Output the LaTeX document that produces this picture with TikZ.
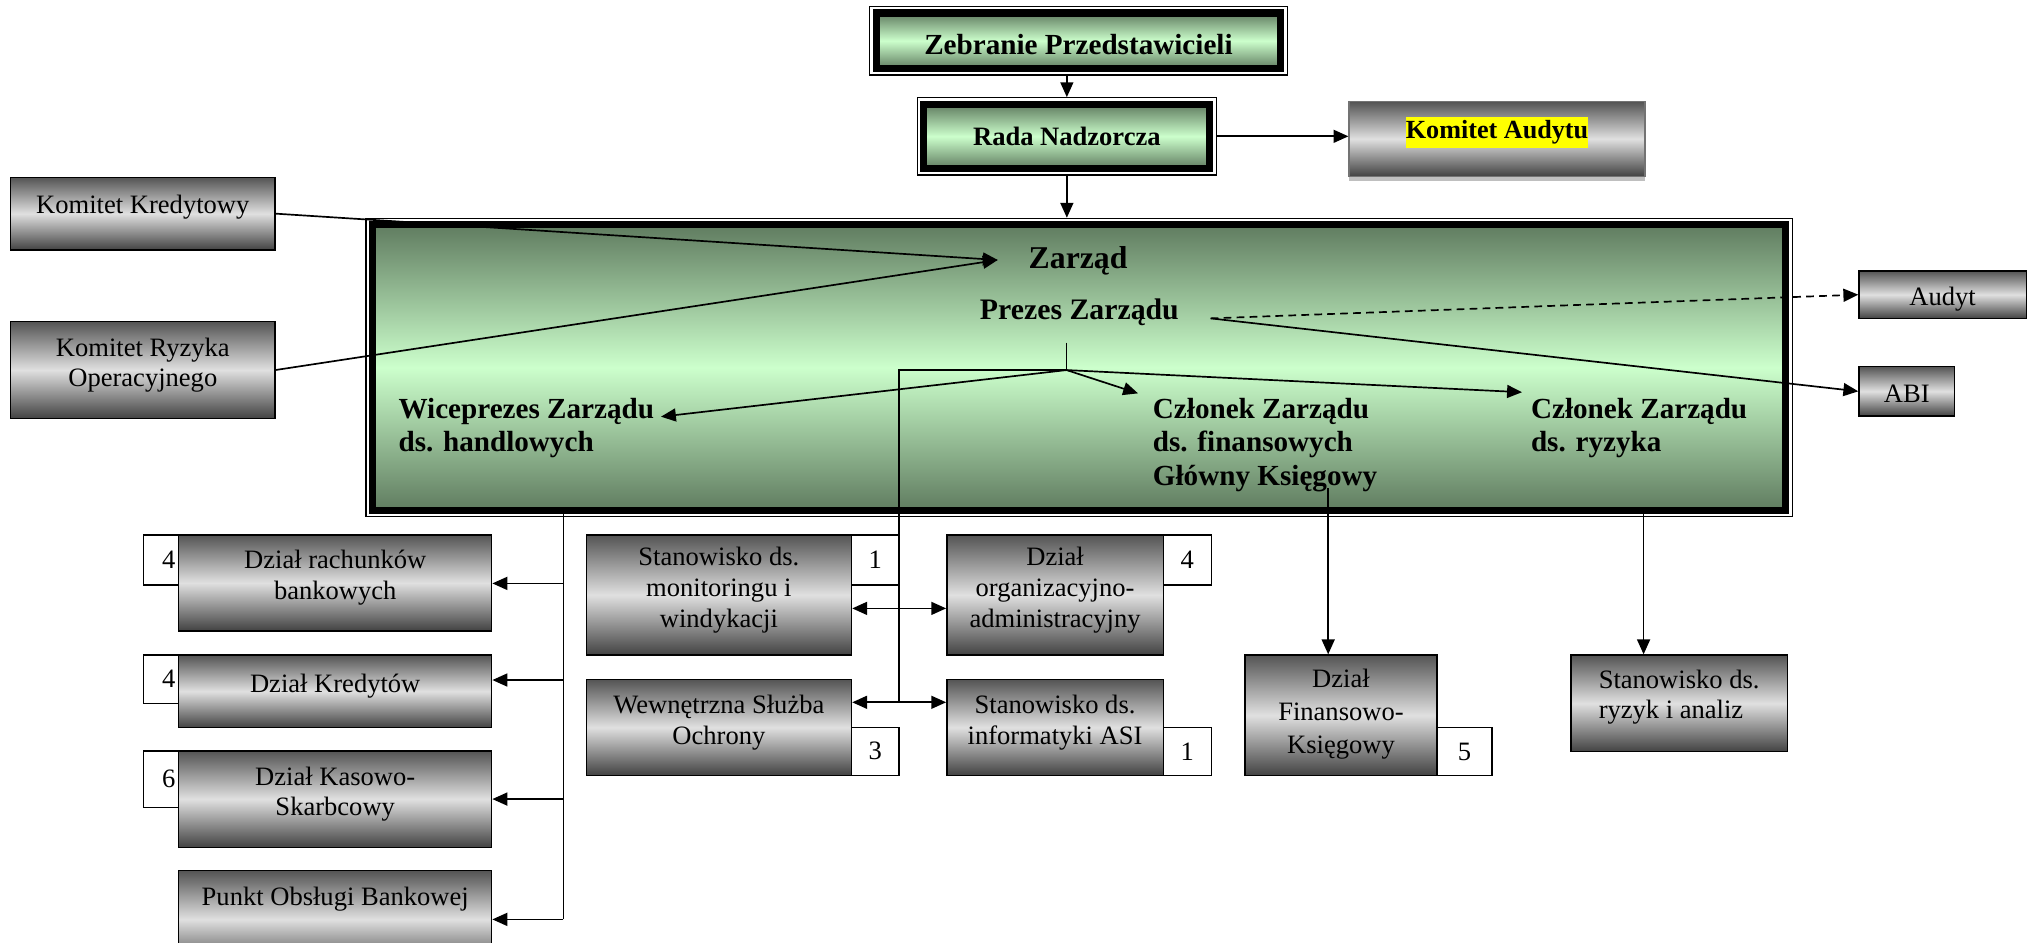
\documentclass[tikz,border=0pt]{standalone}
\usepackage{fontspec}
\setmainfont{Liberation Serif}
\usetikzlibrary{arrows.meta}
\definecolor{gdark}{RGB}{96,124,96}
\definecolor{glight}{RGB}{204,255,204}
\definecolor{sdark}{RGB}{84,84,84}
\definecolor{sbot}{RGB}{66,66,66}
\definecolor{slight}{RGB}{224,224,224}
\definecolor{hl}{RGB}{255,255,0}
\begin{document}
\begin{tikzpicture}[x=1pt,y=-1pt,
  conn/.style={line width=1.3pt},
  arr/.style={conn,-{Triangle[length=11.5pt,width=10pt]}},
  dbl/.style={conn,{Triangle[length=11.5pt,width=10pt]}-{Triangle[length=11.5pt,width=10pt]}},
  dsh/.style={arr,dash pattern=on 6pt off 4pt},
  gbox/.style={draw=black,line width=1.1pt,top color=sdark,bottom color=sbot,middle color=slight,inner sep=0pt,align=center,font=\fontsize{20.5}{23.7}\selectfont,text depth=12pt},
  numbox/.style={draw=black,line width=1.1pt,fill=white,inner sep=0pt,font=\fontsize{20.5}{23.7}\selectfont},
  lnum/.style={numbox,text width=22.3pt,inner xsep=2.5pt,align=right},
  outerframe/.style={draw=black,line width=1pt,inner sep=0pt},
  greenbox/.style={draw=black,line width=5.5pt,top color=gdark,bottom color=gdark,middle color=glight,inner sep=0pt},
  btext/.style={font=\bfseries\fontsize{22.5}{26}\selectfont,inner sep=0pt,align=left},
]
\useasboundingbox (0,0) rectangle (1568,728);
\clip (0,0) rectangle (1568,728);

% top boxes
\node[outerframe,minimum width=322.4pt,minimum height=53pt] (zebo) at (832.6,31.5) {};
\node[greenbox,minimum width=312.4pt,minimum height=43pt,font=\bfseries\fontsize{22.5}{26}\selectfont,text height=21pt] (zeb) at (832.6,31.5) {Zebranie Przedstawicieli};
\node[outerframe,minimum width=230.7pt,minimum height=59.5pt] (radao) at (823.65,105.25) {};
\node[greenbox,minimum width=220.7pt,minimum height=49.5pt,font=\bfseries\fontsize{20.5}{24}\selectfont] (rada) at (823.65,105.25) {Rada Nadzorcza};

\fill[black!25] (1041.5,136) rectangle (1270,140);
\node[draw=black!55,line width=1pt,top color=sdark,bottom color=sbot,middle color=slight,inner sep=0pt,minimum width=228.5pt,minimum height=57.5pt,font=\bfseries\fontsize{20.2}{24}\selectfont,text depth=17pt] (kaud) at (1155.75,107.25) {{\setlength{\fboxsep}{0pt}\colorbox{hl}{\strut Komitet Audytu}}};

% Zarzad
\node[outerframe,minimum width=1101.1pt,minimum height=230.2pt] (zaro) at (833.15,283.7) {};
\node[greenbox,minimum width=1091.1pt,minimum height=220.2pt] (zar) at (833.15,283.7) {};
\node[font=\bfseries\fontsize{24.5}{28}\selectfont,inner sep=0pt,anchor=base] (zt) at (832.3,207) {Zarząd};
\node[font=\bfseries\fontsize{23}{26}\selectfont,inner sep=0pt,anchor=base] (prezes) at (833.3,246.5) {Prezes Zarządu};
\node[btext,anchor=north west] (wice) at (307.5,307) {Wiceprezes Zarządu\\ds. handlowych};
\node[btext,anchor=north west] (czf) at (889.9,307) {Członek Zarządu\\ds. finansowych\\Główny Księgowy};
\node[btext,anchor=north west] (czr) at (1181.8,307) {Członek Zarządu\\ds. ryzyka};

% side committees
\node[gbox,minimum width=204.1pt,minimum height=56.1pt,text depth=15pt] (kk) at (110.25,164.95) {Komitet Kredytowy};
\node[gbox,minimum width=204.1pt,minimum height=74.7pt] (kr) at (110.25,285.65) {Komitet Ryzyka\\Operacyjnego};
\node[gbox,minimum width=129.2pt,minimum height=36.6pt,text depth=0pt,text height=17pt] (audyt) at (1499.8,227.5) {Audyt};
\node[gbox,minimum width=73.7pt,minimum height=38.2pt,text depth=0pt,text height=17pt] (abi) at (1472.05,302.1) {ABI};

% left column
\node[gbox,minimum width=241.6pt,minimum height=74pt] (rach) at (258.8,450) {Dział rachunków\\bankowych};
\node[lnum,minimum height=38.6pt] (n1) at (124.35,432.3) {4};
\node[gbox,minimum width=241.6pt,minimum height=56.1pt] (kred) at (258.8,533.75) {Dział Kredytów};
\node[lnum,minimum height=37.3pt] (n2) at (124.35,524.35) {4};
\node[gbox,minimum width=241.6pt,minimum height=74.4pt] (kas) at (258.8,617) {Dział Kasowo-\\Skarbcowy};
\node[lnum,minimum height=43.5pt] (n3) at (124.35,601.55) {6};
\node[gbox,minimum width=241.6pt,minimum height=75.2pt,text depth=36pt] (punkt) at (258.8,709.8) {Punkt Obsługi Bankowej};

% middle
\node[gbox,minimum width=204.8pt,minimum height=92.7pt] (mon) at (555,459.35) {Stanowisko ds.\\monitoringu i\\windykacji};
\node[numbox,minimum width=36.8pt,minimum height=38.6pt] (n4) at (675.8,432.3) {1};
\node[gbox,minimum width=167.1pt,minimum height=92.7pt] (org) at (814.55,459.35) {Dział\\organizacyjno-\\administracyjny};
\node[numbox,minimum width=37.1pt,minimum height=38.6pt] (n5) at (916.65,432.3) {4};
\node[gbox,minimum width=204.8pt,minimum height=74.1pt] (wso) at (555,561.55) {Wewnętrzna Służba\\Ochrony};
\node[numbox,minimum width=36.8pt,minimum height=37.1pt] (n6) at (675.8,580.05) {3};
\node[gbox,minimum width=167.1pt,minimum height=74.1pt] (asi) at (814.55,561.55) {Stanowisko ds.\\informatyki ASI};
\node[numbox,minimum width=37.1pt,minimum height=37.1pt] (n7) at (916.65,580.05) {1};

% right
\node[gbox,minimum width=148.1pt,minimum height=93.1pt,text depth=6pt,font=\fontsize{20.5}{25.5}\selectfont] (fin) at (1035.25,552.25) {Dział\\Finansowo-\\Księgowy};
\node[numbox,minimum width=42.6pt,minimum height=37.3pt] (n8) at (1130.6,580.15) {5};
\node[gbox,minimum width=166.9pt,minimum height=74.6pt,align=left,text depth=14pt] (ryz) at (1296.35,543) {Stanowisko ds.\\ryzyk i analiz};

% coordinates
\coordinate (ztip) at (770.3,200.7);
\coordinate (pz) at (934.7,245.8);
\coordinate (tick) at (823.4,264.5);
\coordinate (br) at (823.4,285.7);
\coordinate (wtip) at (510.3,321.7);
\coordinate (ftip) at (878.6,303.7);
\coordinate (rtip) at (1175,302.8);
\coordinate (mtop) at (694.2,285.7);
\coordinate (mt1) at (694.2,469.7);
\coordinate (mt2) at (694.2,542.2);
\coordinate (lt) at (435,397);
\coordinate (l1) at (435,450.4);
\coordinate (l2) at (435,525);
\coordinate (l3) at (435,616.9);
\coordinate (l4) at (435,709.8);
\coordinate (fk) at (1025.4,377);
\coordinate (rz) at (1268.9,397);

% connectors
\draw[arr] (zebo.south -| radao.north) -- (radao.north);
\draw[arr] (radao.south) -- (radao.south |- zaro.north);
\draw[arr] (radao.east) -- (radao.east -| kaud.west);
\draw[arr] (kk.east) -- (ztip);
\draw[arr] (kr.east) -- (ztip);
\draw[dsh] (pz) -- (audyt.west);
\draw[arr] (pz) -- (abi.west);
\draw[conn] (tick) -- (br);
\draw[arr] (br) -- (wtip);
\draw[arr] (br) -- (ftip);
\draw[arr] (br) -- (rtip);
\draw[conn] (br) -- (mtop) -- (mt2);
\draw[dbl] (mt1 -| mon.east) -- (mt1 -| org.west);
\draw[dbl] (mt2 -| wso.east) -- (mt2 -| asi.west);
\draw[conn] (lt) -- (l4);
\draw[arr] (l1) -- (l1 -| rach.east);
\draw[arr] (l2) -- (l2 -| kred.east);
\draw[arr] (l3) -- (l3 -| kas.east);
\draw[arr] (l4) -- (l4 -| punkt.east);
\draw[arr] (fk) -- (fk |- fin.north);
\draw[arr] (rz) -- (rz |- ryz.north);
\end{tikzpicture}
\end{document}
